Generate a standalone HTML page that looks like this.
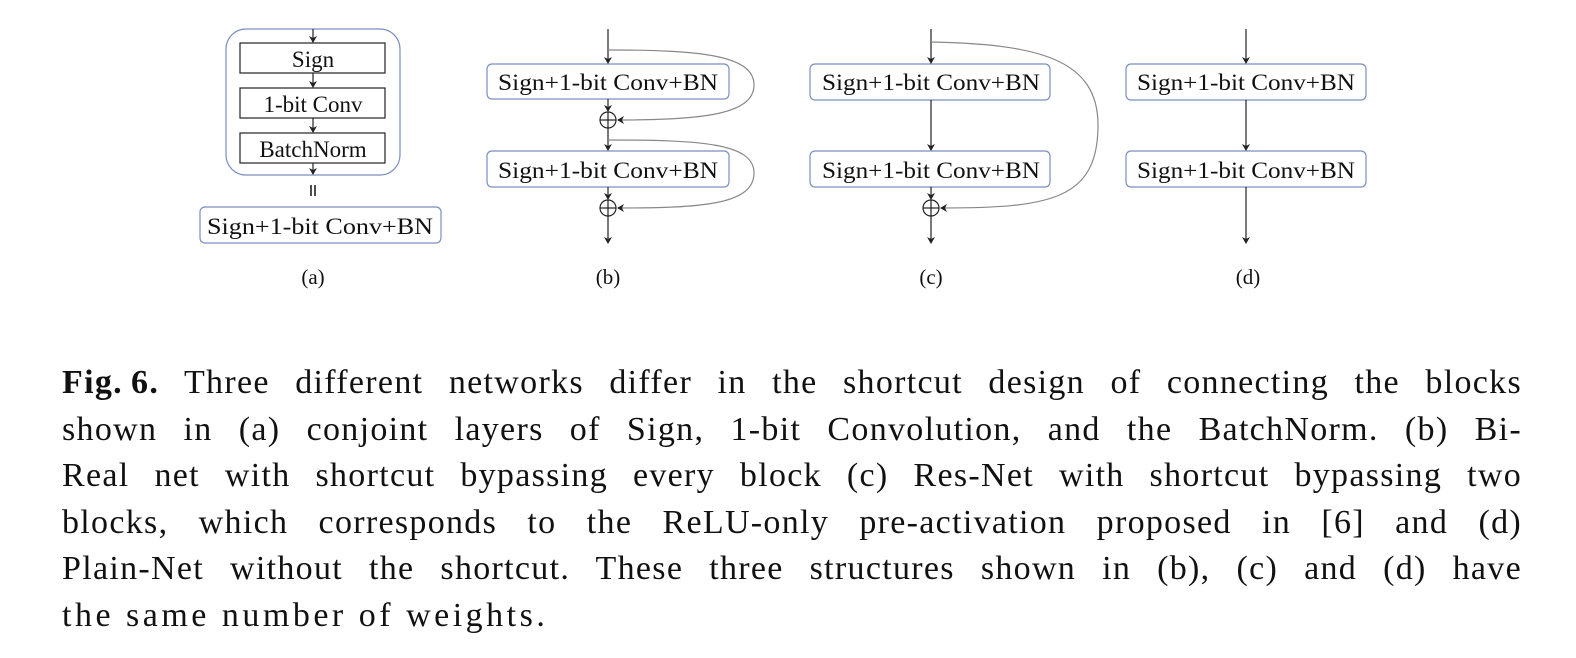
<!DOCTYPE html>
<html><head><meta charset="utf-8"><style>
html,body{margin:0;padding:0;background:#fff;width:1576px;height:658px;overflow:hidden}
.cap{position:absolute;left:62px;width:1460px;font-family:"Liberation Serif",serif;font-size:34px;letter-spacing:1.3px;color:#111;line-height:46.5px}
.l{height:46.5px;text-align:justify;text-align-last:justify;white-space:nowrap}
.last{text-align-last:left;letter-spacing:3.5px}
</style></head><body>
<svg width="1576" height="340" style="position:absolute;left:0;top:0" font-family="Liberation Serif, serif" font-size="23" fill="#111">
<defs><marker id="a" markerWidth="8" markerHeight="8" refX="6" refY="4" orient="auto" markerUnits="userSpaceOnUse"><path d="M0,0 L7,4 L0,8 L2,4Z" fill="#222"/></marker></defs>
<g stroke="#222" stroke-width="1.2" fill="none">
<rect x="226" y="29" width="174" height="146" rx="20" stroke="#7a8ec0"/>
<rect x="240" y="43" width="145" height="30"/>
<rect x="240" y="88" width="145" height="30"/>
<rect x="240" y="133" width="145" height="30"/>
<line x1="313" y1="29" x2="313" y2="42" marker-end="url(#a)"/>
<line x1="313" y1="73" x2="313" y2="87" marker-end="url(#a)"/>
<line x1="313" y1="118" x2="313" y2="132" marker-end="url(#a)"/>
<line x1="313" y1="163" x2="313" y2="174" marker-end="url(#a)"/>
<line x1="311" y1="185" x2="311" y2="196" stroke-width="1.6"/><line x1="315" y1="185" x2="315" y2="196" stroke-width="1.6"/>
<rect x="200" y="207" width="241" height="36" rx="5" stroke="#7a8ec0"/>
<rect x="487" y="64" width="242" height="35" rx="5" stroke="#7a8ec0"/>
<rect x="487" y="151" width="242" height="36" rx="5" stroke="#7a8ec0"/>
<line x1="608" y1="29" x2="608" y2="63" marker-end="url(#a)"/>
<line x1="608" y1="99" x2="608" y2="111" marker-end="url(#a)"/>
<circle cx="608" cy="120" r="8"/><line x1="600" y1="120" x2="616" y2="120"/><line x1="608" y1="112" x2="608" y2="128"/>
<line x1="608" y1="128" x2="608" y2="150" marker-end="url(#a)"/>
<line x1="608" y1="187" x2="608" y2="199" marker-end="url(#a)"/>
<circle cx="608" cy="208" r="8"/><line x1="600" y1="208" x2="616" y2="208"/><line x1="608" y1="200" x2="608" y2="216"/>
<line x1="608" y1="216" x2="608" y2="243" marker-end="url(#a)"/>
<path d="M608,50 C700,50 754,55 754,85 C754,115 700,120 618,120" stroke="#888" marker-end="url(#a)"/>
<path d="M608,140 C700,140 754,143 754,173 C754,205 700,208 618,208" stroke="#888" marker-end="url(#a)"/>
<rect x="810" y="64" width="240" height="36" rx="5" stroke="#7a8ec0"/>
<rect x="810" y="151" width="240" height="36" rx="5" stroke="#7a8ec0"/>
<line x1="931" y1="29" x2="931" y2="63" marker-end="url(#a)"/>
<line x1="931" y1="100" x2="931" y2="150" marker-end="url(#a)"/>
<line x1="931" y1="187" x2="931" y2="199" marker-end="url(#a)"/>
<circle cx="931" cy="208" r="8"/><line x1="923" y1="208" x2="939" y2="208"/><line x1="931" y1="200" x2="931" y2="216"/>
<line x1="931" y1="216" x2="931" y2="243" marker-end="url(#a)"/>
<path d="M931,42 C1040,44 1098,60 1098,125 C1098,200 1050,208 941,208" stroke="#888" marker-end="url(#a)"/>
<rect x="1126" y="64" width="240" height="36" rx="5" stroke="#7a8ec0"/>
<rect x="1126" y="151" width="240" height="36" rx="5" stroke="#7a8ec0"/>
<line x1="1246" y1="29" x2="1246" y2="63" marker-end="url(#a)"/>
<line x1="1246" y1="100" x2="1246" y2="150" marker-end="url(#a)"/>
<line x1="1246" y1="187" x2="1246" y2="243" marker-end="url(#a)"/>
</g>
<g text-anchor="middle">
<text x="313" y="67">Sign</text>
<text x="313" y="112">1-bit Conv</text>
<text x="313" y="157">BatchNorm</text>
<text x="320" y="234" textLength="226" lengthAdjust="spacingAndGlyphs">Sign+1-bit Conv+BN</text>
<text x="608" y="90" textLength="220" lengthAdjust="spacingAndGlyphs">Sign+1-bit Conv+BN</text>
<text x="608" y="178" textLength="220" lengthAdjust="spacingAndGlyphs">Sign+1-bit Conv+BN</text>
<text x="931" y="90" textLength="218" lengthAdjust="spacingAndGlyphs">Sign+1-bit Conv+BN</text>
<text x="931" y="178" textLength="218" lengthAdjust="spacingAndGlyphs">Sign+1-bit Conv+BN</text>
<text x="1246" y="90" textLength="218" lengthAdjust="spacingAndGlyphs">Sign+1-bit Conv+BN</text>
<text x="1246" y="178" textLength="218" lengthAdjust="spacingAndGlyphs">Sign+1-bit Conv+BN</text>
<text x="313" y="284" font-size="21">(a)</text>
<text x="608" y="284" font-size="21">(b)</text>
<text x="931" y="284" font-size="21">(c)</text>
<text x="1248" y="284" font-size="21">(d)</text>
</g>
</svg>
<div class="cap" style="top:360px">
<div class="l"><b>Fig.&#8201;6.</b> Three different networks differ in the shortcut design of connecting the blocks</div>
<div class="l">shown in (a) conjoint layers of Sign, 1-bit Convolution, and the BatchNorm. (b) Bi-</div>
<div class="l">Real net with shortcut bypassing every block (c) Res-Net with shortcut bypassing two</div>
<div class="l">blocks, which corresponds to the ReLU-only pre-activation proposed in [6] and (d)</div>
<div class="l">Plain-Net without the shortcut. These three structures shown in (b), (c) and (d) have</div>
<div class="l last">the same number of weights.</div>
</div>
</body></html>
